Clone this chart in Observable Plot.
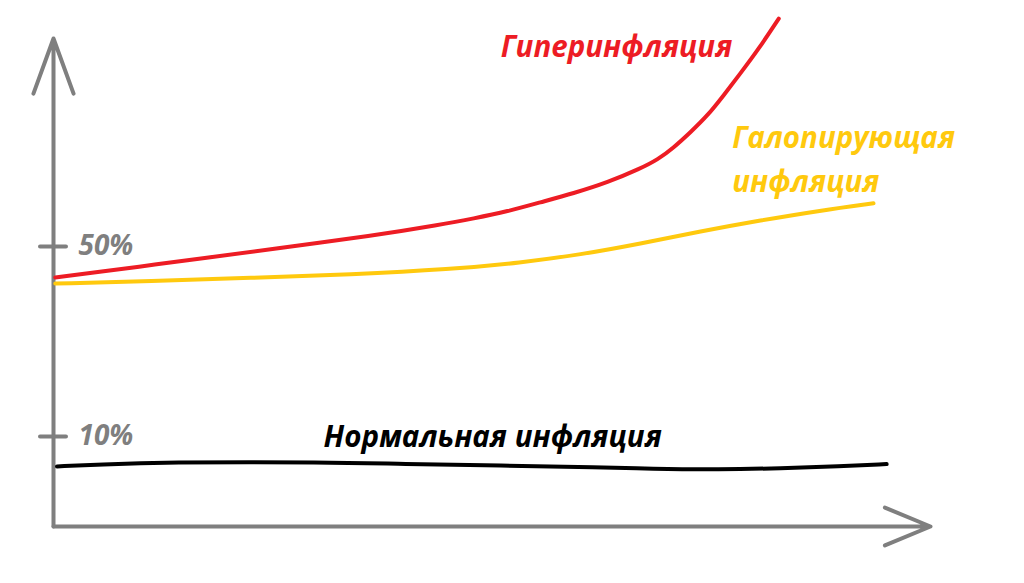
<!DOCTYPE html>
<html><head><meta charset="utf-8">
<script src="https://cdn.jsdelivr.net/npm/d3@7"></script>
<script src="https://cdn.jsdelivr.net/npm/@observablehq/plot@0.6"></script>
<style>
html,body{margin:0;padding:0;background:#fff}
#chart svg{display:block}
</style>
</head><body><div id="chart"></div>
<script>
// Time axis (arbitrary units, unlabeled) and inflation rate (%)
const hyperX = [0.2, 5.4, 11.2, 16.8, 25.1, 36.5, 44.1, 47.9, 51.8, 55.5, 59.3, 63.2, 66.9, 68.9, 70.7, 72.6, 74.6, 76.4, 78.3, 80.3, 82.7];
const hyperY = [43.5, 44.7, 46.1, 47.5, 49.5, 52.3, 54.6, 55.9, 57.4, 59.3, 61.2, 63.5, 66.4, 68.3, 70.8, 74.0, 77.6, 81.8, 86.4, 91.3, 98.0];

const gallopX = [0.2, 11.1, 22.5, 33.9, 45.3, 53.3, 60.1, 66.9, 73.8, 80.6, 87.5, 93.5];
const gallopY = [42.2, 42.7, 43.4, 44.1, 45.2, 46.6, 48.3, 50.6, 53.2, 55.5, 57.6, 59.1];

const normalX = [0.4, 5.4, 12.2, 31.6, 39.6, 51.0, 62.4, 68.0, 76.0, 82.9, 89.7, 95.0];
const normalY = [3.7, 4.1, 4.6, 4.6, 4.2, 3.9, 3.5, 3.2, 3.05, 3.3, 3.7, 4.2];

const yTicks = [10, 50];
const yTickLabels = ["10%", "50%"];

const seriesNames = ["Гиперинфляция", "Галопирующая\nинфляция", "Нормальная инфляция"];
const seriesColors = ["#ED1C24", "#FFC90E", "#000000"];
// label anchors (data units): left edge / text baseline
const labelAtX = [51.0, 77.4, 30.8];
const labelAtY = [89.8, 61.4, 7.7];

const xDomain = [0, 100];
const yDomain = [-8.95, 101.8];
const yArrowTop = 93.8;

const toRows = (xs, ys) => xs.map((x, i) => ({x, y: ys[i]}));
const hyper = toRows(hyperX, hyperY);
const gallop = toRows(gallopX, gallopY);
const normal = toRows(normalX, normalY);
const labels = seriesNames.map((t, i) => ({t, x: labelAtX[i], y: labelAtY[i], c: seriesColors[i]}));
const ticks = yTicks.map((v, i) => ({v, t: yTickLabels[i]}));

const gray = "#7F7F7F";
const font = "'Open Sans', Lato, sans-serif";

const chart = Plot.plot({
  width: 1024,
  height: 583,
  marginLeft: 53,
  marginRight: 94,
  marginTop: 0,
  marginBottom: 57,
  x: {domain: xDomain, axis: null},
  y: {domain: yDomain, axis: null},
  style: {background: "#fff", overflow: "visible"},
  marks: [
    // axes with arrowheads
    Plot.arrow([{x1: 0, y1: yDomain[0], x2: 0, y2: yArrowTop}], {
      x1: "x1", y1: "y1", x2: "x2", y2: "y2",
      stroke: gray, strokeWidth: 4, headAngle: 40, headLength: 22,
      strokeLinecap: "round", strokeLinejoin: "round"
    }),
    Plot.arrow([{x1: 0, y1: yDomain[0], x2: xDomain[1], y2: yDomain[0]}], {
      x1: "x1", y1: "y1", x2: "x2", y2: "y2",
      stroke: gray, strokeWidth: 4, headAngle: 45, headLength: 18.5,
      strokeLinecap: "round", strokeLinejoin: "round"
    }),
    Plot.ruleY(ticks, {y: "v", x1: 0, x2: 0, insetLeft: -13, insetRight: -13,
      stroke: gray, strokeWidth: 4, strokeLinecap: "round"}),
    Plot.text(ticks, {y: "v", x: 0, text: "t", dx: 25, textAnchor: "start",
      fill: gray, fontFamily: font, fontSize: 28, fontWeight: "bold", fontStyle: "italic"}),
    // series
    Plot.line(normal, {x: "x", y: "y", stroke: seriesColors[2], strokeWidth: 4, curve: "basis"}),
    Plot.line(gallop, {x: "x", y: "y", stroke: seriesColors[1], strokeWidth: 4, curve: "basis"}),
    Plot.line(hyper, {x: "x", y: "y", stroke: seriesColors[0], strokeWidth: 4, curve: "basis"}),
    // labels
    Plot.text(labels, {x: "x", y: "y", text: "t", fill: "c", textAnchor: "start", lineAnchor: "bottom",
      lineHeight: 1.5, fontFamily: font, fontSize: 29.5, fontWeight: "bold", fontStyle: "italic"})
  ]
});
document.getElementById("chart").appendChild(chart);
</script>
</body></html>
